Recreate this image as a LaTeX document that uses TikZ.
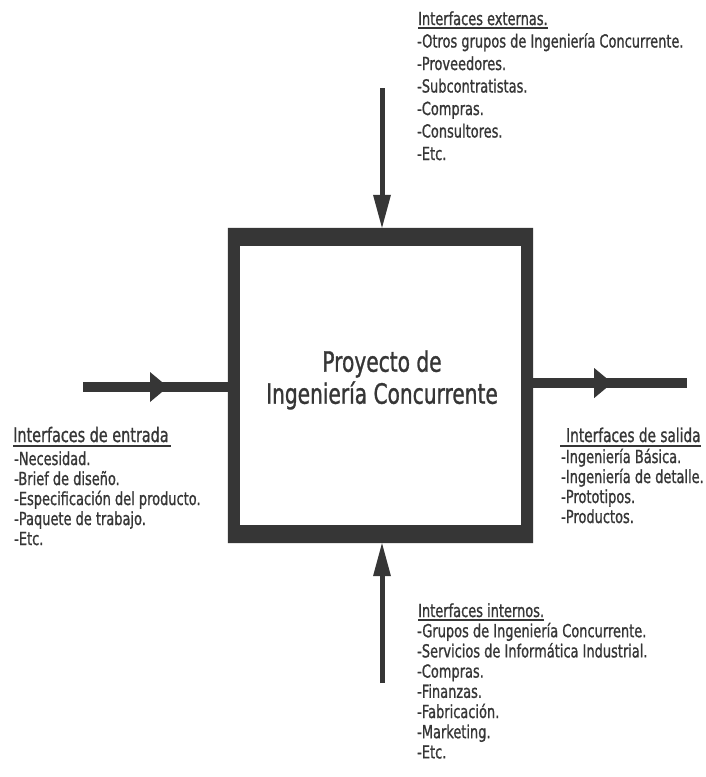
\documentclass[tikz,border=0pt]{standalone}
\usepackage{fontspec}
\setmainfont{DejaVu Sans}[FakeStretch=0.72,FakeBold=1]
\usetikzlibrary{arrows.meta,decorations.markings}
\definecolor{ink}{HTML}{363636}
\begin{document}
\begin{tikzpicture}[x=1pt,y=-1pt,
  item/.style={anchor=base west, inner sep=0pt, font=\fontsize{18}{20}\selectfont, text=ink},
  bighdr/.style={item, font=\fontsize{20}{22}\selectfont},
  uline/.style={draw=ink, line width=1.4pt},
  vshaft/.style={draw=ink, line width=5pt},
  hshaft/.style={draw=ink, line width=10pt},
  vtip/.style={-{Triangle[length=33pt,width=18pt,line width=0pt]}},
  midtip/.style={postaction={decorate}, decoration={markings,
     mark=at position #1 with {\arrow[ink]{Triangle[length=18pt,width=30pt,line width=0pt]}}}}]
\useasboundingbox (0,0) rectangle (706,777);
\fill[white] (0,0) rectangle (706,777);

% central box
\node[minimum width=305pt, minimum height=315pt, inner sep=0pt] (box) at (380.5,385.5) {};
\fill[ink, even odd rule] (box.north west) rectangle (box.south east)
  ([xshift=12pt,yshift=-18pt]box.north west) rectangle ([xshift=-12pt,yshift=18pt]box.south east);
\node[align=center, inner sep=0pt, text=ink, font=\fontsize{28}{32}\selectfont] (title) at (382,380)
  {Proyecto de\\Ingeniería Concurrente};

% connectors
\coordinate (topS) at (382,88);
\coordinate (botS) at (382,683);
\coordinate (inS) at (83,387);
\coordinate (outE) at (687,383);
\draw[vshaft, vtip, ink] (topS) -- (topS |- box.north);
\draw[vshaft, vtip, ink] (botS) -- (botS |- box.south);
\draw[hshaft, midtip=85pt] (inS) -- (inS -| box.west);
\draw[hshaft, midtip=79pt] (outE -| box.east) -- (outE);

% top: external interfaces
\node[item] (ext0) at (418,25) {Interfaces externas.};
\draw[uline] ([yshift=-3pt]ext0.base west) -- ([yshift=-3pt]ext0.base east);
\foreach \t [count=\i] in {-Otros grupos de Ingeniería Concurrente., -Proveedores., -Subcontratistas., -Compras., -Consultores., -Etc.}
  \node[item] (ext\i) at (417,25+\i*22.5) {\t};

% left: input interfaces
\node[bighdr] (in0) at (13,442) {Interfaces de entrada};
\draw[uline] ([yshift=-4pt]in0.base west) -- ([xshift=2pt,yshift=-4pt]in0.base east);
\foreach \t [count=\i] in {-Necesidad., -Brief de diseño., -Especificación del producto., -Paquete de trabajo., -Etc.}
  \node[item] (in\i) at (14,445+\i*20) {\t};

% right: output interfaces
\node[bighdr, font=\fontsize{19}{22}\selectfont] (out0) at (566,442) {Interfaces de salida};
\draw[uline] ([xshift=-6pt,yshift=-4pt]out0.base west) -- ([yshift=-4pt]out0.base east);
\foreach \t [count=\i] in {-Ingeniería Básica., -Ingeniería de detalle., -Prototipos., -Productos.}
  \node[item] (out\i) at (561,443+\i*20) {\t};

% bottom: internal interfaces
\node[item] (int0) at (418,617) {Interfaces internos.};
\draw[uline] ([yshift=-3pt]int0.base west) -- ([yshift=-3pt]int0.base east);
\foreach \t [count=\i] in {-Grupos de Ingeniería Concurrente., -Servicios de Informática Industrial., -Compras., -Finanzas., -Fabricación., -Marketing., -Etc.}
  \node[item] (int\i) at (417,617+\i*20.2) {\t};
\end{tikzpicture}
\end{document}
